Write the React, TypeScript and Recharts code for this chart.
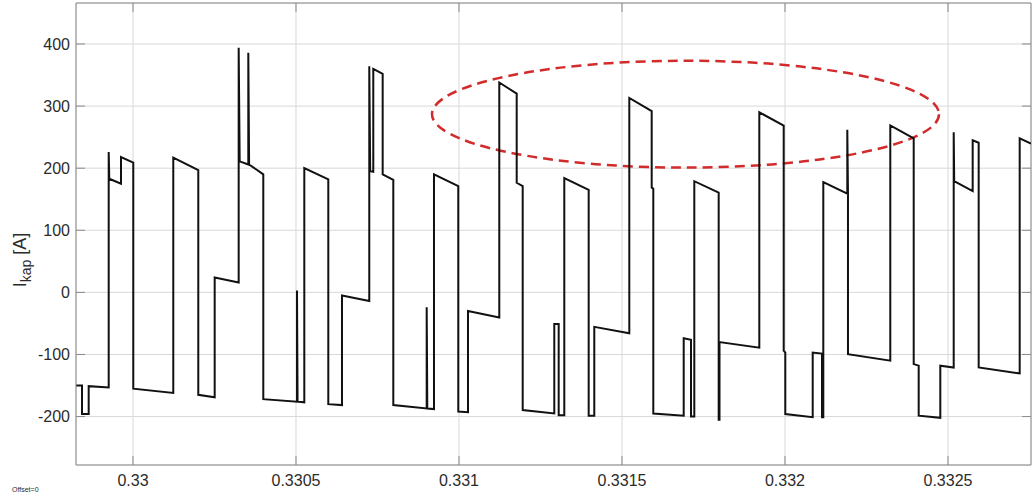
import React from "react";
import {
  LineChart,
  Line,
  XAxis,
  YAxis,
  CartesianGrid,
  ReferenceArea,
  ReferenceLine,
} from "recharts";

// time [s]
const T: number[] = [
  0.3298252, 0.3298436, 0.3298436, 0.3298641, 0.3298641, 0.3299255, 0.3299255, 0.3299273,
  0.3299632, 0.3299632, 0.3300009, 0.3300009, 0.3301236, 0.3301236, 0.3302003, 0.3302003,
  0.3302506, 0.3302506, 0.3303242, 0.3303242, 0.3303273, 0.3303537, 0.3303537, 0.3303562,
  0.3303997, 0.3303997, 0.3305031, 0.3305031, 0.3305049, 0.3305255, 0.3305255, 0.3305991,
  0.3305991, 0.3306411, 0.3306411, 0.3307248, 0.3307248, 0.3307276, 0.3307371, 0.3307371,
  0.3307659, 0.3307659, 0.3307985, 0.3307985, 0.3309009, 0.3309009, 0.3309028, 0.3309233,
  0.3309233, 0.3309978, 0.3309978, 0.3310276, 0.3310276, 0.3311236, 0.3311236, 0.331177,
  0.331177, 0.3311954, 0.3311954, 0.3312923, 0.3312923, 0.3313058, 0.3313058, 0.331323,
  0.331323, 0.3313978, 0.3313978, 0.331415, 0.331415, 0.3315224, 0.3315224, 0.3315911,
  0.3315911, 0.331596, 0.331596, 0.3316893, 0.3316893, 0.3317117, 0.3317117, 0.3317218,
  0.3317218, 0.3317966, 0.3317966, 0.3317991, 0.3317991, 0.3319212, 0.3319212, 0.331996,
  0.331996, 0.3320009, 0.3320009, 0.332085, 0.332085, 0.3321135, 0.3321135, 0.3321175,
  0.3321175, 0.3321911, 0.3321911, 0.3321932, 0.3321932, 0.332323, 0.332323, 0.3323948,
  0.3323948, 0.3324101, 0.3324101, 0.3324764, 0.3324764, 0.3325175, 0.3325175, 0.332519,
  0.3325757, 0.3325757, 0.3325941, 0.3325941, 0.3327199, 0.3327199, 0.3327546,
];

// capacitor current I_kap [A]
const I_KAP: number[] = [
  -150, -150, -196, -196, -151, -153, 226, 183,
  175, 218, 209, -155, -162, 217, 197, -165,
  -169, 24, 16, 394, 211, 206, 386, 206,
  190, -172, -176, 3, -176, -177, 200, 182,
  -180, -181.5, -5, -14, 364, 195, 194, 360,
  352, 190, 181, -181.5, -187, -24, -187, -188,
  190, 171, -192, -193, -30, -40.5, 338, 320,
  176.5, 171, -189.5, -195, -51, -51, -198, -198,
  184, 165, -198.5, -198.5, -55.5, -66, 313, 292,
  168.5, 167, -195, -198.5, -74, -76.5, -200, -200,
  179, 160.5, -205, -205, -80, -89, 290, 268.5,
  -94, -97, -196, -201, -97, -98.5, -201, -201,
  177.5, 159, 262, 159, -99.5, -110, 269, 248,
  -115.5, -118, -198.5, -202, -118, -121, 258, 179,
  163, 245, 241, -121, -130.5, 248, 239.5,
];

const X_TICKS: number[] = [0.33, 0.3305, 0.331, 0.3315, 0.332, 0.3325];
const Y_TICKS: number[] = [-200, -100, 0, 100, 200, 300, 400];
const X_DOMAIN: [number, number] = [0.3298252, 0.3327546];
const Y_DOMAIN: [number, number] = [-278, 466];

// highlighted region (dashed ellipse bounds)
const ELLIPSE_T: [number, number] = [0.3309172, 0.3324724];
const ELLIPSE_I: [number, number] = [201, 373];

const data = T.map((t, i) => ({ t, v: I_KAP[i] }));

const FONT = "'Liberation Sans', Arial, Helvetica, sans-serif";
const TEXT = "#2b2b2b";
const AXIS = "#8a8a8a";
const PLOT_LEFT = 76;
const PLOT_RIGHT = 1031;
const PLOT_TOP = 3;
const PLOT_BOTTOM = 465;
const TICK_LEN = 9;

const YTick = (p: any) => (
  <g>
    <line x1={PLOT_LEFT} x2={PLOT_LEFT + TICK_LEN} y1={p.y} y2={p.y} stroke={AXIS} />
    <line x1={PLOT_RIGHT - TICK_LEN} x2={PLOT_RIGHT} y1={p.y} y2={p.y} stroke={AXIS} />
    <text x={p.x} y={p.y} dy="0.35em" textAnchor="end" fontSize={16} fontFamily={FONT} fill={TEXT}>
      {String(p.payload.value)}
    </text>
  </g>
);

const XTick = (p: any) => (
  <g>
    <line x1={p.x} x2={p.x} y1={PLOT_BOTTOM} y2={PLOT_BOTTOM - TICK_LEN} stroke={AXIS} />
    <line x1={p.x} x2={p.x} y1={PLOT_TOP} y2={PLOT_TOP + TICK_LEN} stroke={AXIS} />
    <text x={p.x} y={p.y} dy="0.71em" textAnchor="middle" fontSize={16} fontFamily={FONT} fill={TEXT}>
      {String(p.payload.value)}
    </text>
  </g>
);

const YLabel = () => (
  <text
    x={0}
    y={0}
    transform="translate(26,260) rotate(-90)"
    textAnchor="middle"
    fontSize={18}
    fontFamily={FONT}
    fill={TEXT}
  >
    <tspan>I</tspan>
    <tspan fontSize={14} dy={5}>kap</tspan>
    <tspan dy={-5}> [A]</tspan>
  </text>
);

const OffsetLabel = () => (
  <text x={12} y={492} fontSize={7} fontFamily={FONT} fill={TEXT}>
    Offset=0
  </text>
);

const EllipseShape = (p: any) => (
  <ellipse
    cx={p.x + p.width / 2}
    cy={p.y + p.height / 2}
    rx={p.width / 2}
    ry={p.height / 2}
    fill="none"
    stroke="#d22b2b"
    strokeWidth={2.5}
    strokeDasharray="10 6"
  />
);

export default function App() {
  return (
    <div style={{ position: "absolute", left: 0, top: 0, width: 1032, height: 497, background: "#fff" }}>
      <LineChart
        width={1032}
        height={497}
        data={data}
        margin={{ top: PLOT_TOP, right: 1032 - PLOT_RIGHT, bottom: 0, left: 0 }}
      >
        <CartesianGrid stroke="#d8d8d8" strokeWidth={1} />
        <XAxis
          dataKey="t"
          type="number"
          domain={X_DOMAIN}
          allowDataOverflow
          ticks={X_TICKS}
          interval={0}
          height={32}
          tickSize={0}
          tickMargin={10}
          tickLine={false}
          axisLine={{ stroke: AXIS }}
          tick={<XTick />}
          label={{ content: <OffsetLabel /> }}
        />
        <YAxis
          type="number"
          domain={Y_DOMAIN}
          allowDataOverflow
          ticks={Y_TICKS}
          interval={0}
          width={PLOT_LEFT}
          tickSize={0}
          tickMargin={6}
          tickLine={false}
          axisLine={{ stroke: AXIS }}
          tick={<YTick />}
          label={{ content: <YLabel /> }}
        />
        <ReferenceLine y={Y_DOMAIN[1]} stroke={AXIS} ifOverflow="visible" />
        <ReferenceLine x={X_DOMAIN[1]} stroke={AXIS} ifOverflow="visible" />
        <Line
          dataKey="v"
          type="linear"
          stroke="#111"
          strokeWidth={2}
          dot={false}
          activeDot={false}
          isAnimationActive={false}
        />
        <ReferenceArea
          x1={ELLIPSE_T[0]}
          x2={ELLIPSE_T[1]}
          y1={ELLIPSE_I[0]}
          y2={ELLIPSE_I[1]}
          ifOverflow="visible"
          shape={<EllipseShape />}
        />
      </LineChart>
    </div>
  );
}
